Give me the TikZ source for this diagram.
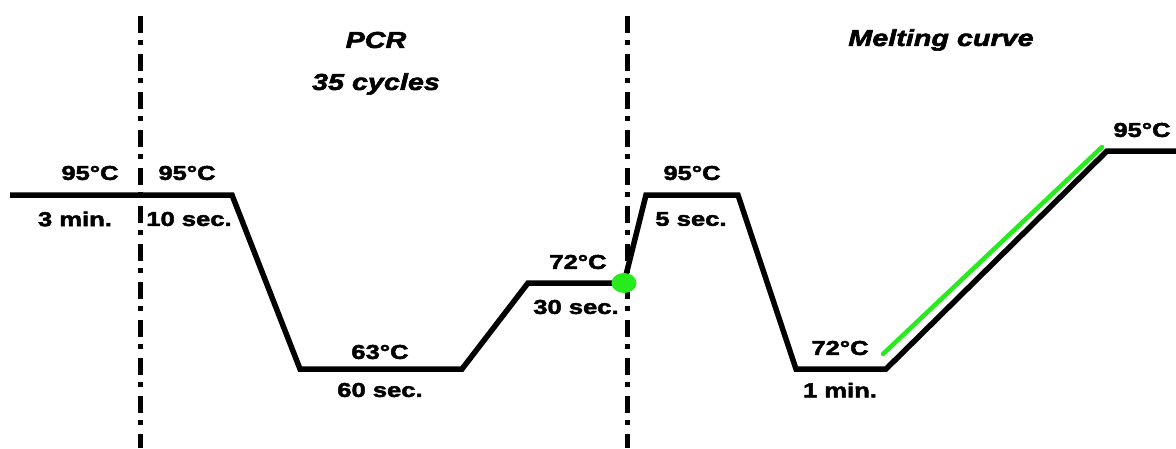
\documentclass[tikz,border=0pt]{standalone}
\usepackage{fontspec}
\usetikzlibrary{shapes.geometric}
\newfontfamily\lab[FakeStretch=1.28,BoldFeatures={FakeBold=2.5}]{Liberation Sans}
\newfontfamily\ttl[FakeStretch=1.25,BoldItalicFeatures={FakeBold=2.5}]{Liberation Sans}
\definecolor{lgreen}{RGB}{40,235,30}
\begin{document}
\begin{tikzpicture}[x=1pt,y=-1pt,
  curve/.style={line width=5.5pt,black,line join=miter},
  sep/.style={line width=5pt,dash pattern=on 17pt off 7pt on 5pt off 9pt},
  lbl/.style={font=\lab\bfseries\fontsize{20}{22}\selectfont,inner sep=0pt},
  title/.style={font=\ttl\bfseries\itshape\fontsize{23}{25}\selectfont,inner sep=0pt}]
\useasboundingbox (0,0) rectangle (1176,448);
% separators
\coordinate (s1t) at (140,16); \coordinate (s1b) at (140,448);
\coordinate (s2t) at (627,16); \coordinate (s2b) at (627,448);
\draw[sep] (s1t) -- (s1b);
\draw[sep] (s2t) -- (s2b);
% profile
\coordinate (p0) at (10,195);
\coordinate (p1) at (232,195);
\coordinate (p2) at (300,369);
\coordinate (p3) at (462,369);
\coordinate (p4) at (528,283);
\coordinate (p5) at (624,283);
\coordinate (p6) at (646,195);
\coordinate (p7) at (738,195);
\coordinate (p8) at (796,369);
\coordinate (p9) at (886,369);
\coordinate (p10) at (1107,151);
\coordinate (p11) at (1176,151);
\draw[curve] (p0) -- (p1) -- (p2) -- (p3) -- (p4) -- (p5) -- (p6) -- (p7) -- (p8) -- (p9) -- (p10) -- (p11);
% green
\coordinate (g0) at (883,354);
\coordinate (g1) at (1102,147);
\draw[lgreen,line width=4.5pt,line cap=round] (g0) -- (g1);
\node[fill=lgreen,ellipse,minimum width=25pt,minimum height=20pt,inner sep=0pt] (dot) at (p5) {};
% labels
\node[lbl] (t1) at (90,173) {95°C};
\node[lbl] (d1) at (75,219) {3 min.};
\node[lbl] (t2) at (187,173) {95°C};
\node[lbl] (d2) at (189,219) {10 sec.};
\node[lbl] (t3) at (380,352) {63°C};
\node[lbl] (d3) at (380,390) {60 sec.};
\node[lbl] (t4) at (578,262) {72°C};
\node[lbl] (d4) at (576,307) {30 sec.};
\node[lbl] (t5) at (692,173) {95°C};
\node[lbl] (d5) at (691,219) {5 sec.};
\node[lbl] (t6) at (840,348) {72°C};
\node[lbl] (d6) at (840,390) {1 min.};
\node[lbl] (t7) at (1142,130) {95°C};
\node[title] (h1) at (376,40) {PCR};
\node[title] (h2) at (376,84) {35 cycles};
\node[title] (h3) at (941,40) {Melting curve};
\end{tikzpicture}
\end{document}
